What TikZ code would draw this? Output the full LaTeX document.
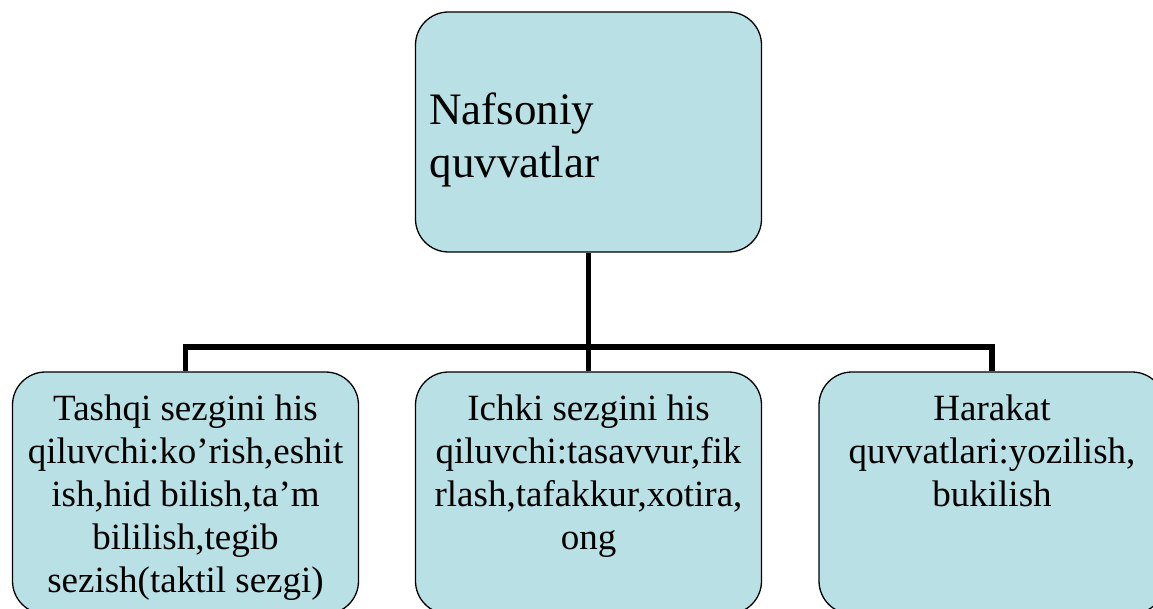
\documentclass[tikz,border=0pt]{standalone}
\usepackage{fontspec}
\setmainfont{Liberation Serif}
\begin{document}
\begin{tikzpicture}[x=1pt,y=-1pt,
  box/.style={draw=black, line width=1.3pt, fill=boxfill, rounded corners=33pt,
    inner sep=0pt, minimum width=346pt, minimum height=242pt},
  conn/.style={line width=5.5pt, line join=miter, draw=black}]
\definecolor{boxfill}{HTML}{B9E0E4}
\useasboundingbox (0,0) rectangle (1153,609);
\clip (0,0) rectangle (1153,609);

% root box, text left aligned
\node[box, minimum height=240pt] (root) at (588.5,132)
  {\parbox[c][240pt][t]{318pt}{\raggedright\fontsize{45}{53}\selectfont
   \vspace*{75pt}\strut Nafsoniy\\\strut quvvatlar}};

% three child boxes, running past the lower edge
\newcommand{\childtext}[1]{\parbox[c][242pt][t]{340pt}{\centering
  \fontsize{37}{43}\selectfont\vspace*{18pt}#1}}

\node[box] (outer) at (185.5,493)
  {\childtext{\strut Tashqi sezgini his\\\strut qiluvchi:ko’rish,eshit\\\strut ish,hid bilish,ta’m\\\strut bililish,tegib\\\strut sezish(taktil sezgi)}};
\node[box] (inner) at (588.5,493)
  {\childtext{\strut Ichki sezgini his\\\strut qiluvchi:tasavvur,fik\\\strut rlash,tafakkur,xotira,\\\strut ong}};
\node[box] (motion) at (992,493)
  {\childtext{\strut Harakat\\\strut quvvatlari:yozilish,\\\strut bukilish}};

% tree connectors
\coordinate (bus) at (588.5,347);
\draw[conn] (root.south) -- (inner.north);
\draw[conn] (outer.north) |- (bus) -| (motion.north);
\end{tikzpicture}
\end{document}
